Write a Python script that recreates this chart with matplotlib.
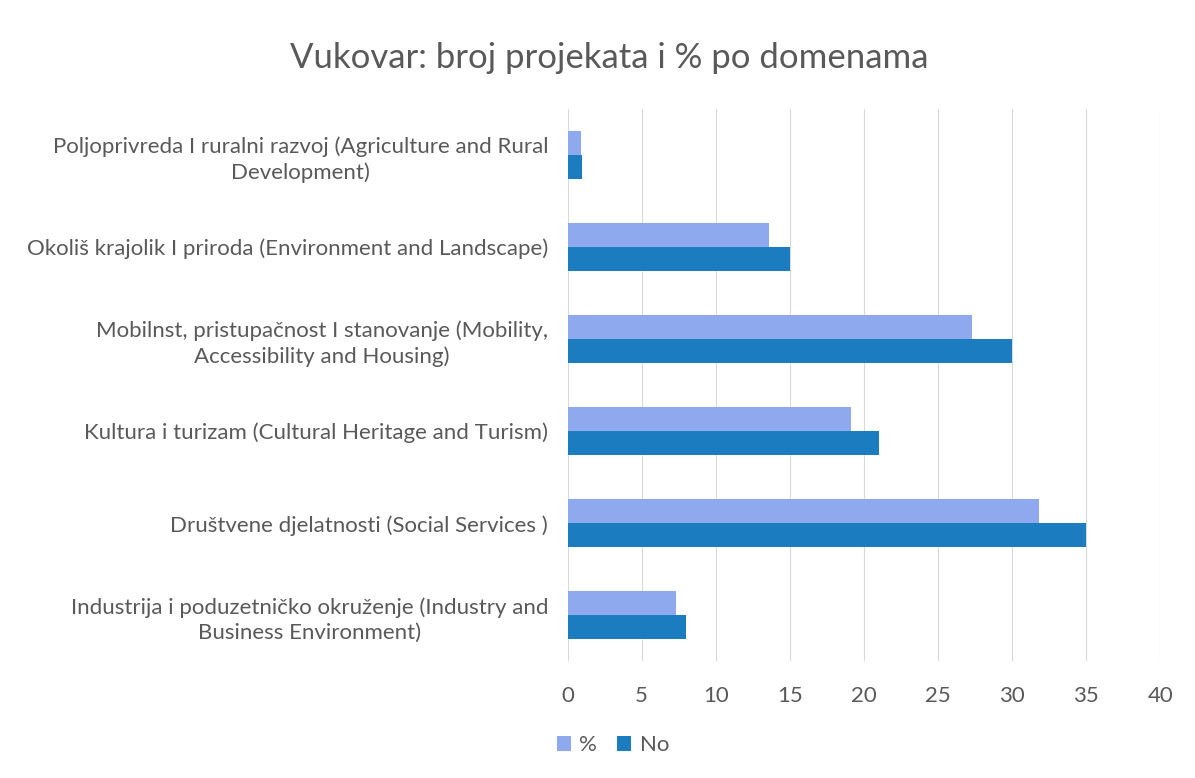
import numpy as np
import matplotlib.pyplot as plt

plt.rcParams['font.family'] = ['Lato', 'DejaVu Sans']

categories = ['Poljoprivreda I ruralni razvoj (Agriculture and Rural\nDevelopment)',
              'Okoliš krajolik I priroda (Environment and Landscape)',
              'Mobilnst, pristupačnost I stanovanje (Mobility,\nAccessibility and Housing)',
              'Kultura i turizam (Cultural Heritage and Turism)',
              'Društvene djelatnosti (Social Services )',
              'Industrija i poduzetničko okruženje (Industry and\nBusiness Environment)']
pct = [0.9, 13.6, 27.3, 19.1, 31.8, 7.3]
no = [1, 15, 30, 21, 35, 8]

txt = '#595959'
fig = plt.figure(figsize=(11.95, 7.78), dpi=100)
ax = fig.add_axes([0.475, 0.150, 0.496, 0.710])

y = np.arange(len(categories))
h = 0.26
ax.barh(y - h / 2, pct, height=h, color='#8fa9ee', label='%')
ax.barh(y + h / 2, no, height=h, color='#1b7dbf', label='No')

ax.set_ylim(len(categories) - 0.5, -0.5)
ax.set_xlim(0, 40)
ax.set_xticks(range(0, 41, 5))
ax.set_yticks(y)
ax.set_yticklabels(categories, multialignment='center', linespacing=1.35)
ax.tick_params(length=0, labelsize=16, colors=txt)
ax.tick_params(axis='y', pad=14)
ax.tick_params(axis='x', pad=18)
ax.grid(axis='x', color='#d9d9d9', linewidth=0.8)
ax.set_axisbelow(True)
for s in ax.spines.values():
    s.set_visible(False)

fig.suptitle('Vukovar: broj projekata i % po domenama', x=0.51, y=0.925,
             va='center', fontsize=25, color=txt)
fig.legend(loc='center', bbox_to_anchor=(0.513, 0.042), ncol=2, frameon=False,
           fontsize=16, labelcolor=txt, handlelength=0.6, handleheight=0.6,
           columnspacing=0.9, handletextpad=0.4)

fig.savefig('out.png')
